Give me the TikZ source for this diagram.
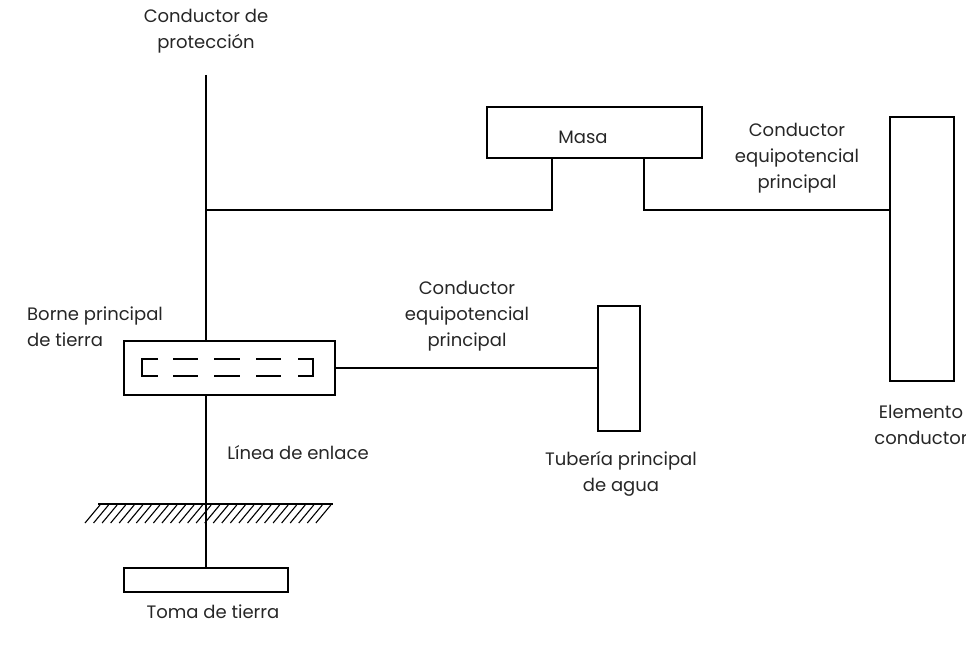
\documentclass[tikz,border=0pt]{standalone}
\usepackage{fontspec}
\setmainfont{Poppins}
\begin{document}
\begin{tikzpicture}[x=1pt,y=-1pt,
  box/.style={draw,line width=1.3pt,inner sep=0pt,minimum width=#1},
  wire/.style={line width=1.3pt},
  lbl/.style={font=\fontsize{18}{26}\selectfont,align=center,inner sep=0pt,text=black!85},
  hatch/.style={line width=1.1pt}]
\useasboundingbox (0,0) rectangle (966,650);
\clip (0,0) rectangle (966,650);
% boxes
\node[box=215pt,minimum height=51pt] (masa) at (594.5,132.5) {};
\node[lbl] at (583,137) {Masa};
\node[box=64pt,minimum height=264pt] (elem) at (922,249) {};
\node[box=211pt,minimum height=54pt] (borne) at (229.5,368) {};
\node[box=42pt,minimum height=125pt] (tub) at (619,368.5) {};
\node[box=164pt,minimum height=24pt] (toma) at (206,580) {};
% coordinates
\coordinate (top) at (206,75);
\coordinate (jl) at (206,210);
\coordinate (ml) at (552,210);
\coordinate (mr) at (644,210);
\coordinate (gl) at (98,504);
\coordinate (gr) at (333,504);
% main vertical conductor
\draw[wire] (top) -- (top |- borne.north);
\draw[wire] (top |- borne.south) -- (top |- toma.north);
% mass connections
\draw[wire] (jl) -- (ml) -- (ml |- masa.south);
\draw[wire] (mr |- masa.south) -- (mr) -- (mr -| elem.west);
% water pipe
\draw[wire] (borne.east) -- (borne.east -| tub.west);
% ground
\draw[wire] (gl) -- (gr);
\foreach \i in {0,...,27} {
  \draw[hatch] ({100+\i*8.55},505) -- ({85+\i*8.55},523);
}
% inner dashed terminal
\draw[wire] (158,359) -- (142,359) -- (142,376) -- (158,376);
\draw[wire] (298,359) -- (313,359) -- (313,376) -- (298,376);
\foreach \a/\b in {173/198,214/240,256/281} {
  \draw[wire] (\a,359) -- (\b,359);
  \draw[wire] (\a,376) -- (\b,376);
}
% labels
\node[lbl] (t1) at (206,31) {Conductor de\\protección};
\node[lbl] (t2) at (797,158) {Conductor\\equipotencial\\principal};
\node[lbl] (t3) at (467,316) {Conductor\\equipotencial\\principal};
\node[lbl,align=left,anchor=west] (t4) at (27,327) {Borne principal\\de tierra};
\node[lbl] (t5) at (298,453) {Línea de enlace};
\node[lbl] (t6) at (621,474) {Tubería principal\\de agua};
\node[lbl] (t7) at (213,612) {Toma de tierra};
\node[lbl] (t8) at (921,425) {Elemento\\conductor};
\end{tikzpicture}
\end{document}
